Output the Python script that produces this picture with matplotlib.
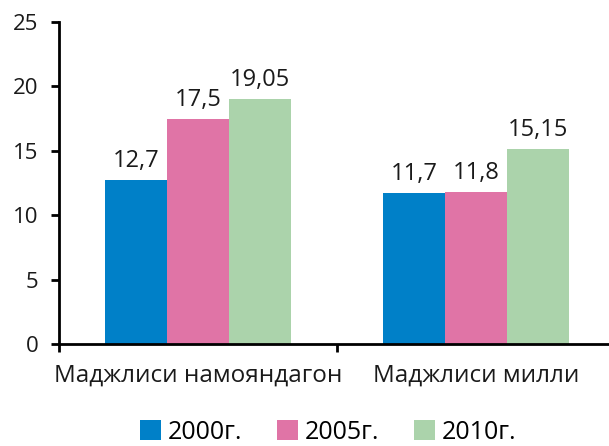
import numpy as np
import matplotlib.pyplot as plt

plt.rcParams['font.family'] = ['Open Sans', 'DejaVu Sans']

categories = ['Маджлиси намояндагон', 'Маджлиси милли']
years = ['2000г.', '2005г.', '2010г.']
v2000 = [12.7, 11.7]
v2005 = [17.5, 11.8]
v2010 = [19.05, 15.15]
value_labels = [['12,7', '11,7'], ['17,5', '11,8'], ['19,05', '15,15']]
colors = ['#0080C8', '#E074A6', '#ABD3AB']

fig = plt.figure(figsize=(6.09, 4.46), dpi=100)
ax = fig.add_axes([59 / 609, 1 - 344 / 446, (615 - 59) / 609, (344 - 22) / 446])

x = np.arange(len(categories))
w = 0.223
series = [v2000, v2005, v2010]
for i, (vals, c) in enumerate(zip(series, colors)):
    bars = ax.bar(x + (i - 1) * w, vals, width=w, color=c, label=years[i])
    for b, lab in zip(bars, value_labels[i]):
        ax.annotate(lab, (b.get_x() + b.get_width() / 2, b.get_height()),
                    xytext=(0, 9.4), textcoords='offset points',
                    ha='center', va='baseline', fontsize=17, color='#1a1a1a')

ax.set_xlim(-0.5, 1.5)
ax.set_ylim(0, 25)
ax.set_yticks(range(0, 26, 5))
ax.set_xticks(x)
ax.set_xticklabels(categories, fontsize=17.5, color='#1a1a1a')
ax.set_xticks([-0.5, 0.5, 1.5], minor=True)
ax.tick_params(axis='x', which='major', length=0, pad=14)
ax.tick_params(axis='x', which='minor', length=6, width=2, direction='out')
ax.tick_params(axis='y', length=6, width=2, direction='out', labelsize=16,
               labelcolor='#1a1a1a', pad=9)
for s in ['top', 'right']:
    ax.spines[s].set_visible(False)
for s in ['left', 'bottom']:
    ax.spines[s].set_linewidth(2)

fig.legend(loc='lower center', bbox_to_anchor=(328 / 609, -0.048), ncol=3,
           frameon=False, fontsize=18, handlelength=0.85, handleheight=0.85,
           handletextpad=0.25, columnspacing=1.4)

fig.savefig('out.png', dpi=100)
